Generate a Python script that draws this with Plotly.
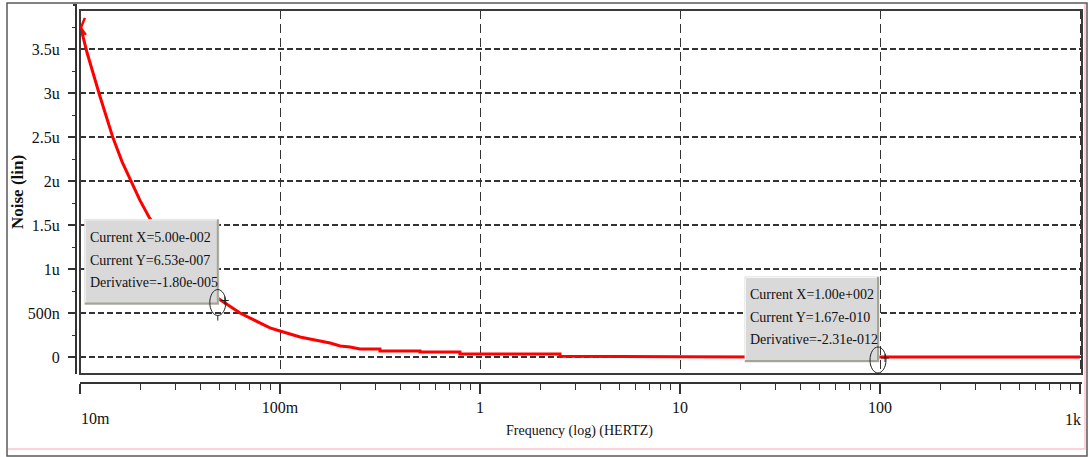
import math
import plotly.graph_objects as go

# Noise analysis output: frequency sweep (Hz) and noise level (linear)
freq_hz = [0.0101, 0.01084, 0.01259, 0.01462, 0.01622, 0.01841, 0.01995, 0.02213,
           0.03, 0.04, 0.05, 0.0631, 0.0794, 0.0891, 0.1, 0.112, 0.126, 0.141,
           0.158, 0.178, 0.2, 0.224, 0.251, 0.316, 0.316, 0.501, 0.501, 0.794,
           0.794, 2.512, 2.512, 10.0, 100.0, 1000.0]
noise = [3.74e-6, 3.46e-6, 2.96e-6, 2.49e-6, 2.22e-6, 1.95e-6, 1.78e-6, 1.59e-6,
         1.14e-6, 8.33e-7, 6.53e-7, 5.0e-7, 3.86e-7, 3.3e-7, 2.95e-7, 2.61e-7,
         2.27e-7, 2.05e-7, 1.82e-7, 1.59e-7, 1.25e-7, 1.14e-7, 9.1e-8, 9.1e-8,
         6.8e-8, 6.8e-8, 5.7e-8, 5.7e-8, 3.4e-8, 3.4e-8, 9.5e-9, 2.0e-9,
         1.67e-10, 1.5e-11]

# Cursor read-outs
cursor_x = [0.05, 100.0]
cursor_y = [6.53e-7, 1.67e-10]
cursor_deriv = [-1.80e-5, -2.31e-12]

# Axis ticks
x_tickvals = [0.01, 0.1, 1, 10, 100, 1000]
x_ticktext = ["", "100m", "1", "10", "100", ""]
y_tickvals = [0, 0.5e-6, 1.0e-6, 1.5e-6, 2.0e-6, 2.5e-6, 3.0e-6, 3.5e-6]
y_ticktext = ["0", "500n", "1u", "1.5u", "2u", "2.5u", "3u", "3.5u"]
y_minor = [0.25e-6, 0.75e-6, 1.25e-6, 1.75e-6, 2.25e-6, 2.75e-6, 3.25e-6, 3.75e-6]
x_minor = [m * 10 ** d for d in range(-2, 3) for m in range(2, 10)]

W, H = 1089, 457
ML, MR, MT, MB = 76, 7, 10, 74
PW = W - ML - MR
PH = H - MT - MB

FONT = "Times New Roman, Liberation Serif, Tinos, DejaVu Serif, serif"
GRID = "#333333"


def spice_fmt(v):
    mant, exp = f"{v:.2e}".split("e")
    return f"{mant}e{exp[0]}{exp[1:].zfill(3)}"


def ellipse_path(cx, cy, rx, ry):
    k = 0.5523
    return (f"M {cx-rx},{cy} "
            f"C {cx-rx},{cy+ry*k} {cx-rx*k},{cy+ry} {cx},{cy+ry} "
            f"C {cx+rx*k},{cy+ry} {cx+rx},{cy+ry*k} {cx+rx},{cy} "
            f"C {cx+rx},{cy-ry*k} {cx+rx*k},{cy-ry} {cx},{cy-ry} "
            f"C {cx-rx*k},{cy-ry} {cx-rx},{cy-ry*k} {cx-rx},{cy} Z")


fig = go.Figure()
fig.add_trace(go.Scatter(
    x=freq_hz, y=noise, mode="lines",
    line=dict(color="#ff0000", width=3),
    hoverinfo="skip", showlegend=False,
))

shapes = []
annotations = []

# plot frame
shapes.append(dict(type="rect", xref="x domain", yref="y domain",
                   x0=0, x1=1, y0=0, y1=1, layer="above",
                   line=dict(color="#3a3a3a", width=2)))

# start-of-trace arrow
shapes.append(dict(type="path", xref="x", yref="y",
                   xsizemode="pixel", ysizemode="pixel",
                   xanchor=freq_hz[0], yanchor=noise[0],
                   path="M 4,10 L 0,0 L 5,-7",
                   line=dict(color="#ff0000", width=2.5), layer="above"))

# cursor read-out boxes
bx0, bx1, by0, by1 = -135, -1, -5, 80
BOX_FILL = "#d9d9d9"
for cx, cy, cd in zip(cursor_x, cursor_y, cursor_deriv):
    common = dict(xref="x", yref="y", xsizemode="pixel", ysizemode="pixel",
                  xanchor=cx, yanchor=cy, layer="above")
    shapes.append(dict(type="path",
                       path=f"M {bx0},{by0} L {bx1},{by0} L {bx1},{by1} L {bx0},{by1} Z",
                       fillcolor=BOX_FILL, opacity=1,
                       line=dict(color=BOX_FILL, width=1), **common))
    shapes.append(dict(type="path",
                       path=f"M {bx0},{by0+1} L {bx1-1},{by0+1} L {bx1-1},{by1}",
                       line=dict(color="#a4a496", width=2), **common))
    shapes.append(dict(type="path",
                       path=f"M {bx0+0.5},{by0+2} L {bx0+0.5},{by1-0.5} L {bx1-2},{by1-0.5}",
                       line=dict(color="#f4f4f4", width=1), **common))
    # cursor symbol: ellipse with a cross and a short stem
    shapes.append(dict(type="path", path=ellipse_path(-2, -3, 8, 13),
                       line=dict(color="#222222", width=1), **common))
    shapes.append(dict(type="path", path="M 1,-1 L 9,-1 M 5,-5 L 5,3 M -2,-16 L -2,-21",
                       line=dict(color="#222222", width=1), **common))
    lines = [f"Current X={spice_fmt(cx)}", f"Current Y={spice_fmt(cy)}",
             f"Derivative={spice_fmt(cd)}"]
    for k, txt in enumerate(lines):
        annotations.append(dict(
            text=txt, xref="x", yref="y", x=math.log10(cx), y=cy,
            xanchor="left", yanchor="middle", showarrow=False,
            xshift=bx0 + 3, yshift=by1 - 18 - 22.5 * k,
            font=dict(family=FONT, size=14, color="#111111")))

# y-axis line extension at the top
shapes.append(dict(type="path", xref="paper", yref="paper",
                   xsizemode="pixel", ysizemode="pixel", xanchor=0, yanchor=1,
                   path="M 0,0 L 0,5 M -3,5 L 1,5",
                   line=dict(color="#333333", width=2)))

# outer window frame
frame = dict(xref="paper", yref="paper", xsizemode="pixel", ysizemode="pixel",
             xanchor=0, yanchor=0)
shapes.append(dict(type="rect", x0=7 - ML, x1=1087 - ML,
                   y0=(H - MB) - 456, y1=(H - MB) - 3,
                   line=dict(color="#5a5a5a", width=1.5), **frame))
shapes.append(dict(type="path",
                   path=f"M {8-ML},{(H-MB)-449} L {1085-ML},{(H-MB)-449} L {1085-ML},{(H-MB)-4}",
                   line=dict(color="#ffc4cc", width=1.5), **frame))

# end tick labels and axis titles
annotations.append(dict(text="10m", xref="x", yref="paper", x=math.log10(x_tickvals[0]), y=0,
                        xanchor="left", yanchor="middle", yshift=-35, xshift=-1,
                        showarrow=False, font=dict(family=FONT, size=16, color="#111111")))
annotations.append(dict(text="1k", xref="x", yref="paper", x=math.log10(x_tickvals[-1]), y=0,
                        xanchor="right", yanchor="middle", yshift=-36, xshift=3,
                        showarrow=False, font=dict(family=FONT, size=16, color="#111111")))
annotations.append(dict(text="Frequency (log) (HERTZ)", xref="paper", yref="paper",
                        x=0.5, y=0, yshift=-48, xanchor="center", yanchor="middle",
                        showarrow=False, font=dict(family=FONT, size=14, color="#111111")))
annotations.append(dict(text="<b>Noise (lin)</b>", xref="paper", yref="paper",
                        x=0, y=0, xshift=17 - ML, yshift=(H - MB) - 192,
                        xanchor="center", yanchor="middle", textangle=-90,
                        showarrow=False, font=dict(family=FONT, size=17, color="#111111")))

x_lo = -2.0
x_hi = -2.0 + (1082 - 80) / 200.0
y_lo = -17.0 / 88.0 * 1e-6
y_hi = 347.0 / 88.0 * 1e-6

fig.update_layout(
    width=W, height=H,
    margin=dict(l=ML, r=MR, t=MT, b=MB, pad=0),
    paper_bgcolor="white", plot_bgcolor="white",
    showlegend=False,
    font=dict(family=FONT),
    xaxis=dict(
        type="log", range=[x_lo, x_hi], domain=[(80 - ML) / PW, 1],
        anchor="free", position=0,
        showline=True, linecolor="#333333", linewidth=2,
        ticks="outside", ticklen=10, tickwidth=1.5, tickcolor="#333333",
        tickmode="array", tickvals=x_tickvals, ticktext=x_ticktext,
        tickfont=dict(family=FONT, size=16, color="#111111"),
        minor=dict(tickmode="array", tickvals=x_minor, ticklen=6,
                   tickwidth=1.2, tickcolor="#333333", showgrid=False),
        showgrid=True, gridcolor=GRID, gridwidth=1.3, griddash="9px,5px",
        zeroline=False,
    ),
    yaxis=dict(
        range=[y_lo, y_hi], domain=[(H - MB - 374) / PH, 1],
        anchor="free", position=0,
        showline=True, linecolor="#333333", linewidth=2,
        ticks="outside", ticklen=7, tickwidth=1.5, tickcolor="#333333",
        tickmode="array", tickvals=y_tickvals, ticktext=y_ticktext,
        tickfont=dict(family=FONT, size=16, color="#111111"),
        ticklabelstandoff=5,
        minor=dict(tickmode="array", tickvals=y_minor, ticklen=3,
                   tickwidth=1.2, tickcolor="#333333", showgrid=False),
        showgrid=True, gridcolor=GRID, gridwidth=1.5, griddash="6px,3px",
        zeroline=False,
    ),
    shapes=shapes,
    annotations=annotations,
)

fig.write_html("out.html")
